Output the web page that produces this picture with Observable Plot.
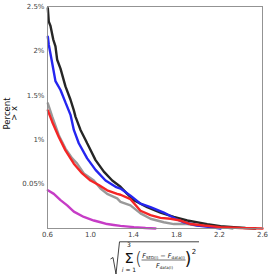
<!DOCTYPE html>
<html>
<head>
<meta charset="utf-8">
<script src="https://cdn.jsdelivr.net/npm/d3@7"></script>
<script src="https://cdn.jsdelivr.net/npm/@observablehq/plot@0.6"></script>
<style>
  html, body { margin: 0; padding: 0; background: #fff; }
  #chart { width: 269px; height: 276px; overflow: hidden; }
  svg { display: block; }
</style>
</head>
<body>
<div id="chart"></div>
<script>
// ---- data (x = distance metric, y = percent > x) ----
const blackX = [0.603,0.612,0.628,0.653,0.674,0.690,0.721,0.767,0.814,0.845,0.860,0.907,0.953,0.969,1.047,1.124,1.202,1.279,1.341,1.403,1.527,1.651,1.775,1.900,2.086,2.209,2.333,2.442,2.535];
const blackY = [2.48,2.33,2.28,2.13,2.05,1.90,1.80,1.60,1.45,1.33,1.26,1.11,1.00,0.96,0.77,0.64,0.54,0.47,0.39,0.32,0.24,0.18,0.13,0.09,0.05,0.026,0.015,0.005,0];

const blueX = [0.603,0.612,0.644,0.674,0.721,0.767,0.814,0.845,0.891,0.969,1.047,1.140,1.233,1.279,1.372,1.465,1.558,1.682,1.791,1.868,1.993,2.116,2.209];
const blueY = [2.16,2.07,1.86,1.66,1.56,1.42,1.28,1.11,0.96,0.79,0.66,0.54,0.47,0.45,0.37,0.28,0.24,0.18,0.11,0.07,0.034,0.015,0];

const grayX = [0.603,0.644,0.705,0.767,0.830,0.876,0.938,1.031,1.093,1.155,1.248,1.279,1.372,1.465,1.558,1.682,1.775,1.900,1.993,2.147,2.240,2.321];
const grayY = [1.41,1.26,1.05,0.90,0.79,0.73,0.62,0.54,0.45,0.39,0.34,0.30,0.26,0.17,0.11,0.07,0.05,0.05,0.034,0.026,0.015,0];

const redX = [0.603,0.644,0.705,0.767,0.845,0.923,1.000,1.077,1.155,1.248,1.279,1.372,1.465,1.558,1.651,1.744,1.837,1.930,2.054,2.209,2.395,2.6];
const redY = [1.33,1.20,1.03,0.88,0.73,0.62,0.54,0.49,0.43,0.39,0.38,0.33,0.20,0.15,0.12,0.11,0.09,0.05,0.034,0.015,0.005,0];

const magentaX = [0.603,0.659,0.721,0.783,0.845,0.938,1.031,1.093,1.155,1.217,1.279,1.403,1.512,1.605];
const magentaY = [0.43,0.39,0.32,0.26,0.19,0.13,0.09,0.07,0.05,0.04,0.03,0.015,0.005,0];

const xTicks = [0.6, 1.0, 1.4, 1.8, 2.2, 2.6];
const yTicks = [0.5, 1, 1.5, 2, 2.5];
const yTickLabels = ["0.05%", "1%", "1.5%", "2%", "2.5%"];
const yLabelLines = ["Percent", "> x"];

const series = [
  {name: "gray", xs: grayX, ys: grayY, color: "#999999"},
  {name: "black", xs: blackX, ys: blackY, color: "#262626"},
  {name: "blue", xs: blueX, ys: blueY, color: "#2525f0"},
  {name: "red", xs: redX, ys: redY, color: "#f52525"},
  {name: "magenta", xs: magentaX, ys: magentaY, color: "#c63cc6"}
];
const rows = s => s.xs.map((x, i) => ({x, y: s.ys[i]}));

const plot = Plot.plot({
  width: 269,
  height: 240,
  marginLeft: 47,
  marginRight: 7,
  marginTop: 6,
  marginBottom: 12,
  style: {fontFamily: "DejaVu Sans", fontSize: "7px", color: "#444", background: "#fff"},
  x: {domain: [0.6, 2.6], ticks: xTicks, tickFormat: d => d.toFixed(1), tickSize: 0, tickPadding: 4, label: null},
  y: {domain: [0, 2.5], ticks: yTicks, tickFormat: d => yTickLabels[yTicks.indexOf(d)], tickSize: 0, tickPadding: 3, label: null},
  marks: [
    ...series.map(s => Plot.line(rows(s), {x: "x", y: "y", stroke: s.color, strokeWidth: 2.4, strokeLinejoin: "miter", curve: "linear"})),
    Plot.frame({stroke: "#888", strokeWidth: 0.9}),
    Plot.text([yLabelLines[0]], {text: d => d, frameAnchor: "left", textAnchor: "middle", dx: -40, dy: -4, rotate: -90, fontSize: 8.5, fill: "#111"}),
    Plot.text([yLabelLines[1]], {text: d => d, frameAnchor: "left", textAnchor: "middle", dx: -33, dy: -4, rotate: -90, fontSize: 8.5, fill: "#111"})
  ]
});
document.getElementById("chart").appendChild(plot);

// ---- x-axis label formula ----
const f = d3.create("svg").attr("width", 269).attr("height", 36)
  .attr("font-family", "DejaVu Sans").attr("fill", "#111");
f.append("path").attr("d", "M110.5,19 L113,17.5 L116,34 L119.5,1.8 L199,1.8")
  .attr("fill", "none").attr("stroke", "#111").attr("stroke-width", 0.8);
f.append("text").attr("x", 129).attr("y", 7).attr("font-size", 6).attr("text-anchor", "middle").text("3");
f.append("text").attr("x", 129).attr("y", 22.5).attr("font-size", 14.5).attr("text-anchor", "middle").text("Σ");
const lim = f.append("text").attr("x", 129).attr("y", 31.5).attr("font-size", 6).attr("text-anchor", "middle");
lim.append("tspan").attr("font-style", "italic").text("i");
lim.append("tspan").text(" = 1");
f.append("text").attr("x", 138.5).attr("y", 25).attr("font-size", 17).attr("text-anchor", "middle").attr("font-weight", 200).text("(");
f.append("text").attr("x", 188).attr("y", 25).attr("font-size", 17).attr("text-anchor", "middle").text(")");
f.append("text").attr("x", 194).attr("y", 14).attr("font-size", 7).attr("text-anchor", "middle").text("2");
const num = f.append("text").attr("x", 163.5).attr("y", 17.5).attr("font-size", 6.5).attr("text-anchor", "middle");
num.append("tspan").attr("font-style", "italic").text("F");
num.append("tspan").attr("font-size", 4).attr("dy", 1.2).text("SED(i)");
num.append("tspan").attr("dy", -1.2).text(" − ");
num.append("tspan").attr("font-style", "italic").text("F");
num.append("tspan").attr("font-size", 4).attr("dy", 1.2).text("data(i)");
f.append("line").attr("x1", 141.5).attr("x2", 185.5).attr("y1", 20).attr("y2", 20)
  .attr("stroke", "#111").attr("stroke-width", 0.6);
const den = f.append("text").attr("x", 164.5).attr("y", 27.5).attr("font-size", 6.5).attr("text-anchor", "middle");
den.append("tspan").attr("font-style", "italic").text("F");
den.append("tspan").attr("font-size", 4).attr("dy", 1.2).text("data(i)");
document.getElementById("chart").appendChild(f.node());
</script>
</body>
</html>
